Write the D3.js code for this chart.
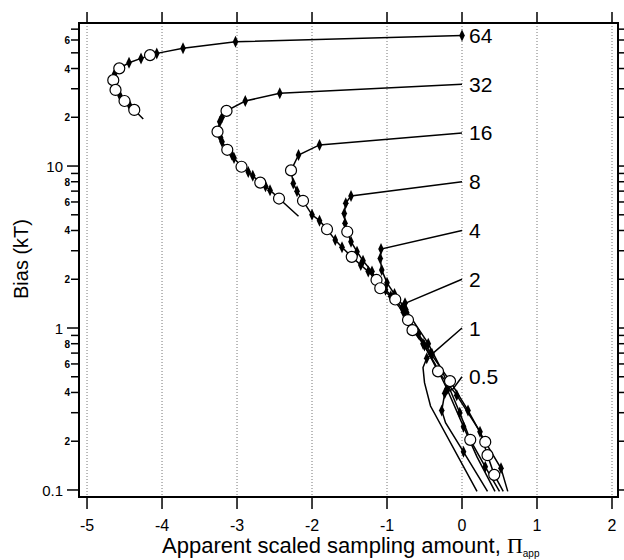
<!DOCTYPE html>
<html>
<head>
<meta charset="utf-8">
<script src="https://cdn.jsdelivr.net/npm/d3@7"></script>
<style>
  body { margin: 0; background: #fff; }
  svg { display: block; }
</style>
</head>
<body>
<svg id="chart" width="624" height="560"></svg>
<script>
// curve labels (bias at Pi = 0) and one array of [Pi_app, bias, marker] per curve
// marker: 'd' = filled diamond, 'o' = open circle, '' = none
const labels = ["64", "32", "16", "8", "4", "2", "1", "0.5"];

const curve64 = [
  [0, 64, 'd'], [-3.02, 58.5, 'd'], [-3.72, 53.3, 'd'], [-4.07, 49.6, 'd'], [-4.16, 48.4, 'o'],
  [-4.28, 46.2, 'd'], [-4.44, 43.4, 'd'], [-4.57, 40.1, 'o'], [-4.63, 37.3, 'd'], [-4.65, 33.9, 'o'],
  [-4.62, 29.5, 'o'], [-4.56, 27.2, 'd'], [-4.50, 25.2, 'o'], [-4.43, 23.6, 'd'], [-4.37, 22.2, 'o'],
  [-4.25, 19.5, '']
];
const curve32 = [
  [0, 32, ''], [-2.43, 28.1, 'd'], [-2.89, 25.2, 'd'], [-3.14, 21.9, 'o'], [-3.20, 20.0, 'd'],
  [-3.23, 18.8, 'd'], [-3.26, 16.3, 'o'], [-3.22, 15.0, 'd'], [-3.20, 14.1, 'd'], [-3.13, 12.6, 'o'],
  [-3.07, 11.8, 'd'], [-3.04, 11.2, 'd'], [-2.94, 9.9, 'o'], [-2.85, 9.2, 'd'], [-2.79, 8.7, 'd'],
  [-2.69, 7.9, 'o'], [-2.62, 7.5, 'd'], [-2.56, 7.1, 'd'], [-2.44, 6.3, 'o'], [-2.18, 4.9, '']
];
const curve16 = [
  [0, 16, ''], [-1.90, 13.5, 'd'], [-2.18, 11.7, 'd'], [-2.28, 9.4, 'o'], [-2.25, 7.8, 'd'],
  [-2.20, 7.0, 'd'], [-2.12, 6.1, 'o'], [-2.00, 5.0, 'd'], [-1.90, 4.6, 'd'], [-1.80, 4.07, 'o'],
  [-1.69, 3.49, 'd'], [-1.60, 3.15, 'd'], [-1.47, 2.75, 'o'], [-1.35, 2.45, 'd'], [-1.25, 2.23, 'd'],
  [-1.14, 1.98, 'o'], [-1.02, 1.72, 'd'], [-0.89, 1.50, 'o'], [-0.80, 1.33, 'd'], [-0.72, 1.12, 'o'],
  [-0.58, 0.92, 'd'], [-0.42, 0.70, 'd'], [-0.16, 0.47, 'o'], [0.08, 0.31, 'd'], [0.31, 0.198, 'o'],
  [0.52, 0.136, 'd'], [0.61, 0.098, '']
];
const curve8 = [
  [0, 8, ''], [-1.48, 6.53, 'd'], [-1.55, 5.9, 'd'], [-1.57, 5.1, 'd'], [-1.56, 4.43, 'd'],
  [-1.53, 3.93, 'o'], [-1.48, 3.41, 'd'], [-1.40, 2.96, 'd'], [-1.32, 2.60, 'd'], [-1.20, 2.23, 'd'],
  [-1.09, 1.76, 'o'], [-0.95, 1.57, 'd'], [-0.78, 1.25, 'd'], [-0.66, 0.97, 'o'], [-0.50, 0.78, 'd'],
  [-0.32, 0.54, 'o'], [-0.07, 0.385, 'd'], [0.24, 0.229, 'd'], [0.34, 0.164, 'o'], [0.43, 0.124, 'o'],
  [0.55, 0.098, '']
];
const curve4 = [
  [0, 4, ''], [-1.08, 3.07, 'd'], [-1.09, 2.69, 'd'], [-1.07, 2.28, 'd'], [-1.00, 1.90, 'd'],
  [-0.90, 1.62, 'd'], [-0.75, 1.30, 'd'], [-0.60, 1.02, ''], [-0.45, 0.80, 'd'], [-0.27, 0.55, ''],
  [-0.03, 0.30, 'd'], [0.11, 0.204, 'o'], [0.31, 0.139, 'd'], [0.50, 0.098, '']
];
const curve2 = [
  [0, 2, ''], [-0.76, 1.42, 'd'], [-0.74, 1.25, 'd'], [-0.65, 1.02, ''], [-0.52, 0.80, 'd'],
  [-0.36, 0.60, ''], [-0.20, 0.42, 'd'], [0.02, 0.246, 'd'], [0.20, 0.16, ''], [0.44, 0.098, '']
];
const curve1 = [
  [0, 1, ''], [-0.40, 0.69, 'd'], [-0.47, 0.65, 'd'], [-0.52, 0.57, ''], [-0.50, 0.46, ''],
  [-0.42, 0.33, ''], [0.20, 0.098, '']
];
const curve05 = [
  [0, 0.5, ''], [-0.12, 0.42, ''], [-0.23, 0.395, 'd'], [-0.27, 0.31, 'd'], [-0.22, 0.26, ''],
  [0.02, 0.172, 'd'], [0.34, 0.098, '']
];
const curves = [curve64, curve32, curve16, curve8, curve4, curve2, curve1, curve05];

const xTicks = [-5, -4, -3, -2, -1, 0, 1, 2];
const yLabelledDigits = [2, 4, 6, 8];

const svg = d3.select('#chart');
const mLeft = 79, mRight = 618, mTop = 23, mBottom = 497;
const font = "'Liberation Sans', Arial, sans-serif";

const x = d3.scaleLinear().domain([-5.107, 2.08]).range([mLeft, mRight]);
const y = d3.scaleLog().domain([0.0905, 76.4]).range([mBottom, mTop]);

// dotted vertical grid
svg.append('g').selectAll('line')
  .data(xTicks).enter().append('line')
  .attr('x1', d => x(d)).attr('x2', d => x(d))
  .attr('y1', mTop).attr('y2', mBottom)
  .style('stroke', '#777').style('stroke-width', 1)
  .style('stroke-dasharray', '1,2');

// x ticks top and bottom
const xt = svg.append('g');
xt.selectAll('.tb').data(xTicks).enter().append('line')
  .attr('x1', d => x(d)).attr('x2', d => x(d))
  .attr('y1', mBottom).attr('y2', mBottom + 12)
  .style('stroke', '#000').style('stroke-width', 1.5);
xt.selectAll('.tt').data(xTicks).enter().append('line')
  .attr('x1', d => x(d)).attr('x2', d => x(d))
  .attr('y1', mTop - 11).attr('y2', mTop)
  .style('stroke', '#000').style('stroke-width', 1.5);
xt.selectAll('text').data(xTicks).enter().append('text')
  .attr('x', d => x(d)).attr('y', 531)
  .attr('text-anchor', 'middle')
  .style('font-family', font).style('font-size', '16px')
  .text(d => String(d));

// y ticks, left and right
const yTicks = y.ticks().filter(d => d >= 0.0905 && d <= 76.4);
const isMajor = d => Math.abs(Math.log10(d) - Math.round(Math.log10(d))) < 1e-6;
const lead = d => Math.round(d / Math.pow(10, Math.floor(Math.log10(d) + 1e-9)));

const yt = svg.append('g');
yt.selectAll('.tl').data(yTicks).enter().append('line')
  .attr('x1', d => isMajor(d) ? mLeft - 12 : mLeft - 8).attr('x2', mLeft)
  .attr('y1', d => y(d)).attr('y2', d => y(d))
  .style('stroke', '#000').style('stroke-width', 1.5);
yt.selectAll('.tr').data(yTicks).enter().append('line')
  .attr('x1', mRight).attr('x2', mRight + 8)
  .attr('y1', d => y(d)).attr('y2', d => y(d))
  .style('stroke', '#000').style('stroke-width', 1.5);
yt.selectAll('.lm').data(yTicks.filter(isMajor)).enter().append('text')
  .attr('x', mLeft - 16).attr('y', d => y(d) + 6)
  .attr('text-anchor', 'end')
  .style('font-family', font).style('font-size', '15px')
  .text(d => d < 1 ? '0.1' : String(d));
yt.selectAll('.ln').data(yTicks.filter(d => !isMajor(d) && yLabelledDigits.includes(lead(d)))).enter().append('text')
  .attr('x', mLeft - 9).attr('y', d => y(d) + 4)
  .attr('text-anchor', 'end')
  .style('font-family', font).style('font-size', '10px').style('font-weight', 'bold')
  .text(d => lead(d));

// frame
svg.append('rect')
  .attr('x', mLeft).attr('y', mTop)
  .attr('width', mRight - mLeft).attr('height', mBottom - mTop)
  .style('fill', 'none').style('stroke', '#000').style('stroke-width', 2);

// curves
const line = d3.line().x(d => x(d[0])).y(d => y(d[1]));
const plot = svg.append('g');
plot.selectAll('path.curve').data(curves).enter().append('path')
  .attr('class', 'curve')
  .attr('d', line)
  .style('fill', 'none').style('stroke', '#000').style('stroke-width', 1.5);

const pts = curves.flat();
plot.selectAll('path.dia').data(pts.filter(d => d[2] === 'd')).enter().append('path')
  .attr('class', 'dia')
  .attr('d', 'M0,-6L2.8,0L0,6L-2.8,0Z')
  .attr('transform', d => `translate(${x(d[0])},${y(d[1])})`)
  .style('fill', '#000');
plot.selectAll('circle').data(pts.filter(d => d[2] === 'o')).enter().append('circle')
  .attr('cx', d => x(d[0])).attr('cy', d => y(d[1])).attr('r', 5.5)
  .style('fill', '#fff').style('stroke', '#000').style('stroke-width', 1.2);

// curve labels
svg.append('g').selectAll('text').data(labels).enter().append('text')
  .attr('x', x(0) + 7).attr('y', d => y(+d) + 7.5)
  .style('font-family', font).style('font-size', '21px')
  .text(d => d);

// axis titles
const xTitle = svg.append('text')
  .attr('x', 162).attr('y', 553)
  .style('font-family', font).style('font-size', '22px');
xTitle.append('tspan').text('Apparent scaled sampling amount, ');
xTitle.append('tspan').style('font-family', "'Liberation Serif', 'Times New Roman', serif").text('\u03A0');
xTitle.append('tspan').attr('dy', 4).style('font-size', '10px').text('app');

svg.append('text')
  .attr('transform', 'translate(28,259) rotate(-90)')
  .attr('text-anchor', 'middle')
  .style('font-family', font).style('font-size', '20px')
  .text('Bias (kT)');
</script>
</body>
</html>
